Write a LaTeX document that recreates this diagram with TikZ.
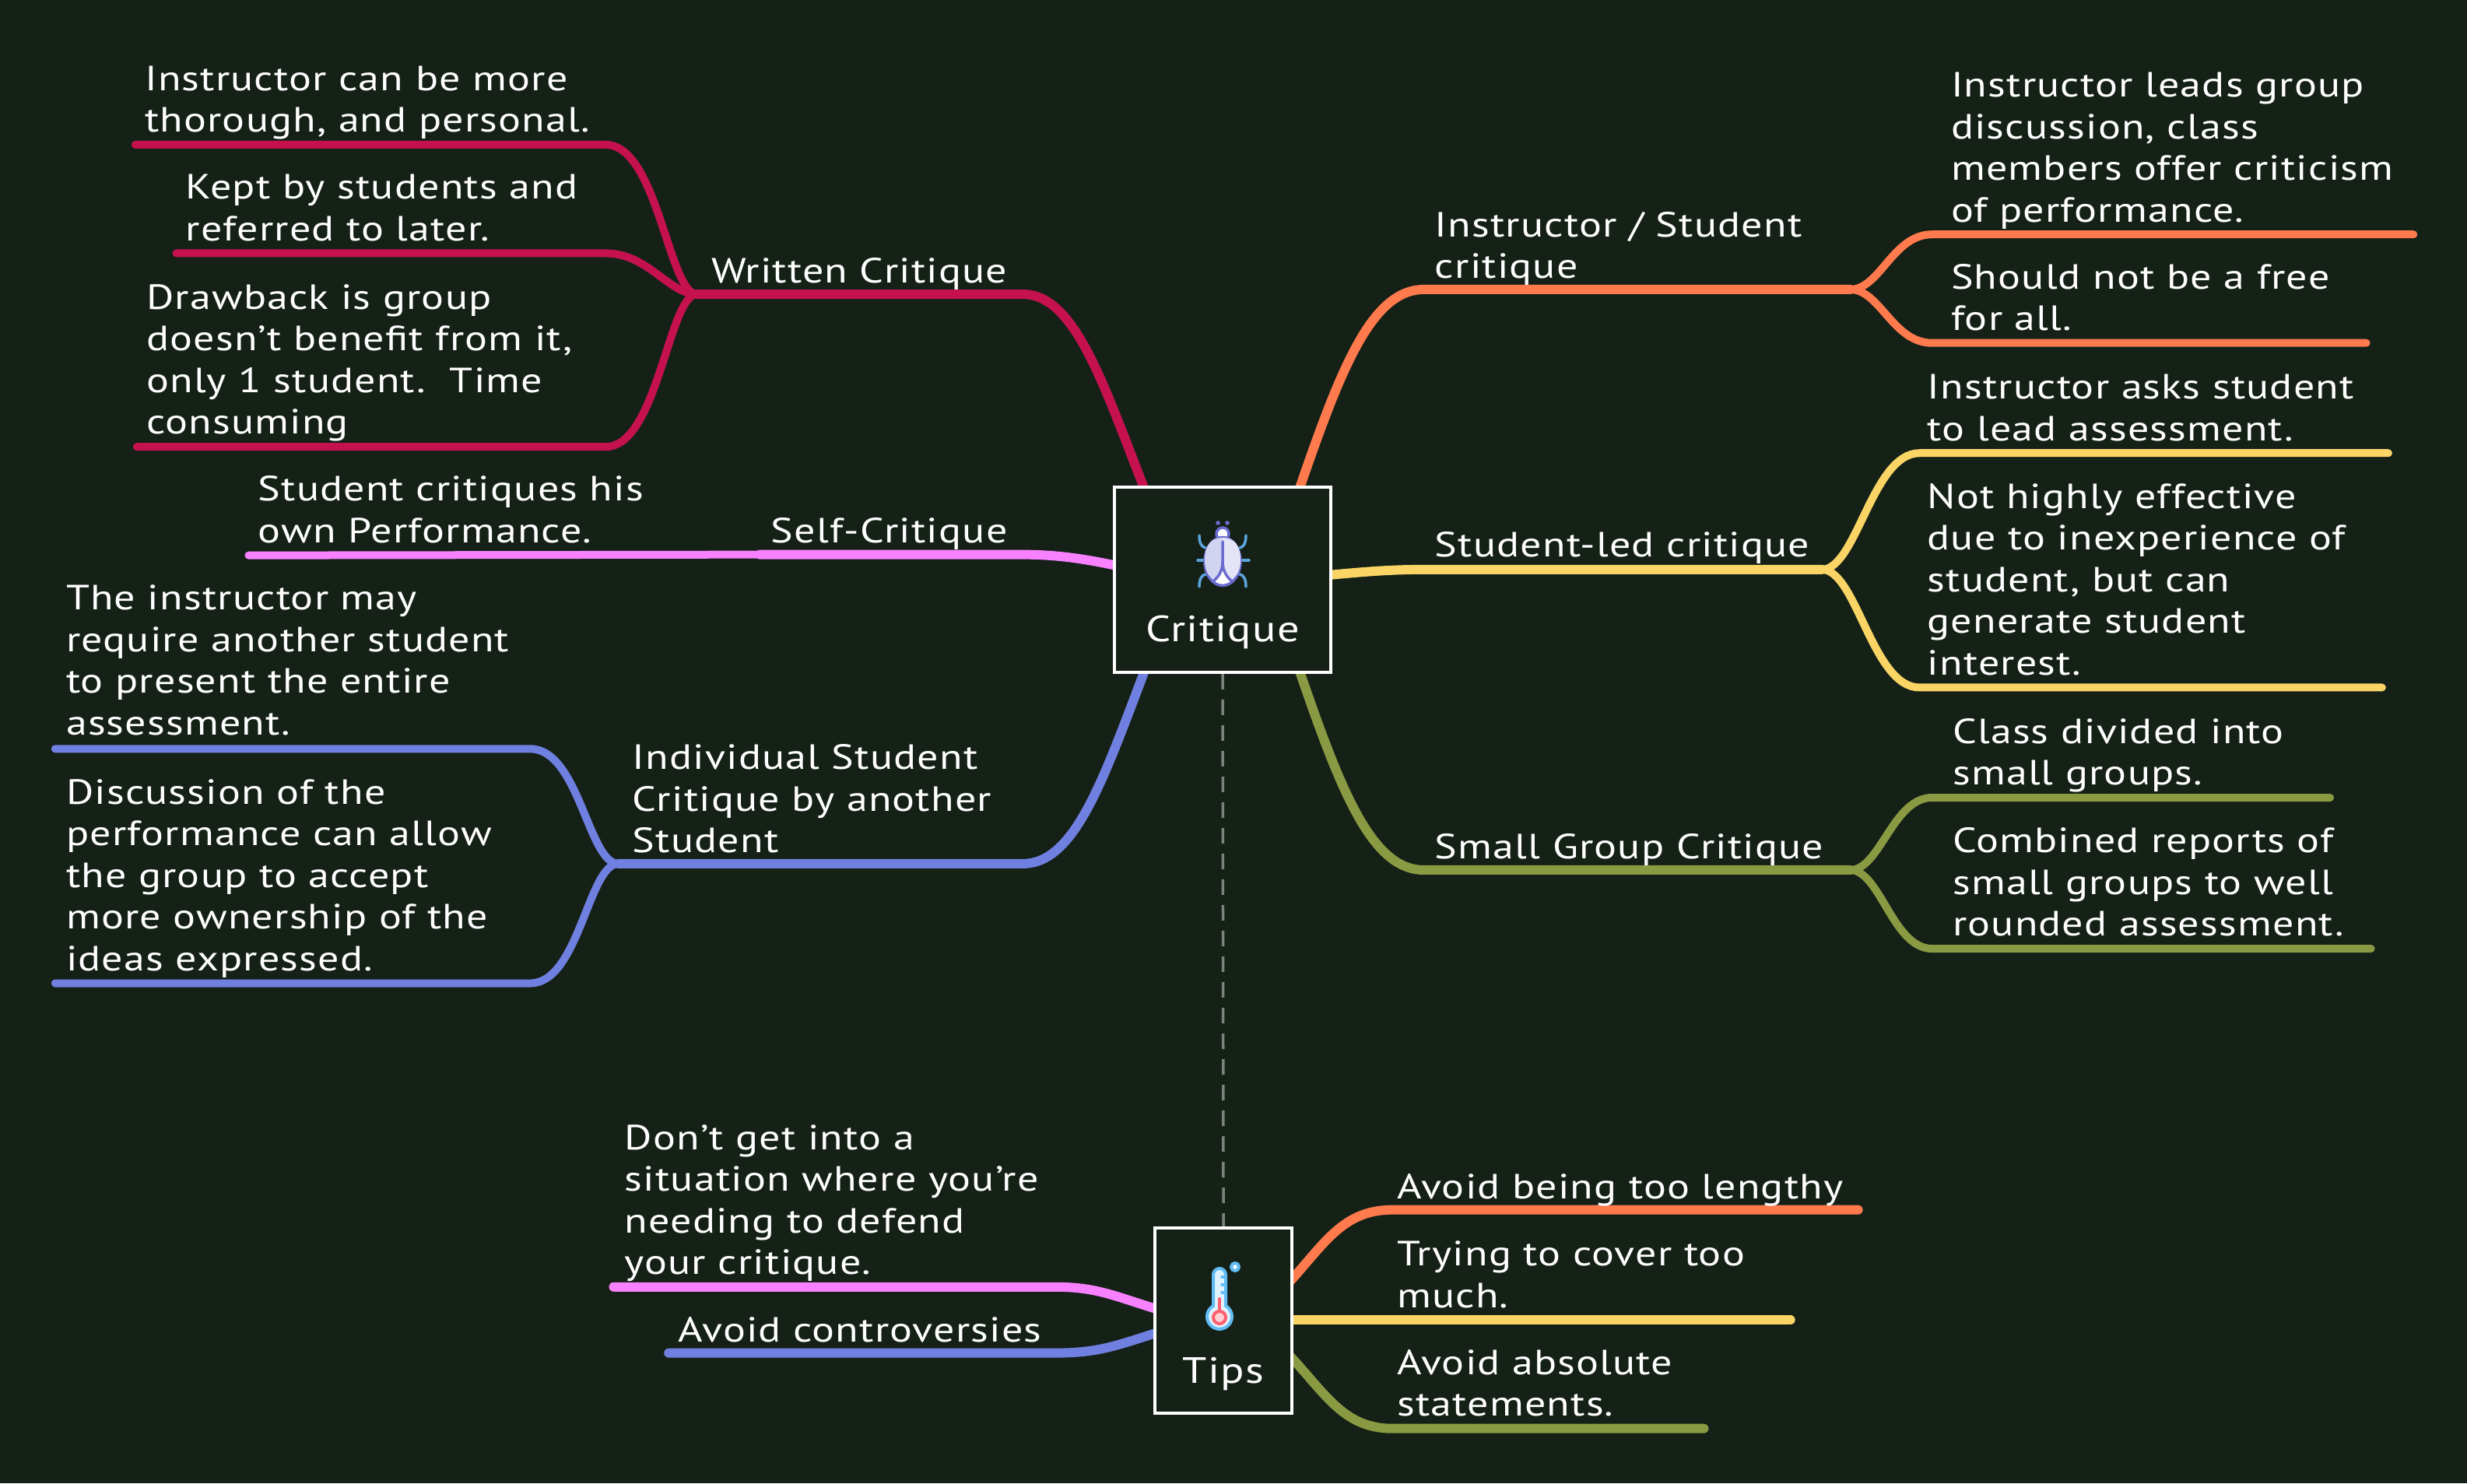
\documentclass[tikz,border=0pt]{standalone}
\usepackage{fontspec}
\setmainfont[FakeStretch=1.2,LetterSpace=2.6]{PT Sans}
\usetikzlibrary{backgrounds}
\definecolor{bgc}{HTML}{152117}
\definecolor{corange}{HTML}{FF7A4D}
\definecolor{cyellow}{HTML}{FAD566}
\definecolor{colive}{HTML}{8A9A42}
\definecolor{ccrimson}{HTML}{C5124F}
\definecolor{cpink}{HTML}{F781FF}
\definecolor{cblue}{HTML}{7080E0}
\definecolor{cdash}{HTML}{7C827C}
\definecolor{bugv}{HTML}{6A6CD0}
\definecolor{bugl}{HTML}{5AA5DC}
\definecolor{thb}{HTML}{62BCF5}
\definecolor{thr}{HTML}{FF5F6D}
\tikzset{
  lab/.style={text=white,anchor=base west,align=left,inner sep=0pt,font=\fontsize{45}{53.5}\selectfont},
  rootbox/.style={draw=white,line width=4pt,fill=bgc,rectangle,inner sep=0pt},
  rootlab/.style={text=white,anchor=base,inner sep=0pt,font=\fontsize{47}{54}\selectfont},
  mainb/.style={line width=12pt,line cap=round},
  leafb/.style={line width=10pt,line cap=round},
}
\begin{document}
\begin{tikzpicture}[x=2.02168pt,y=-2.02168pt]
\useasboundingbox (0,0) rectangle (1568,943);
% roots
\node[rootbox,minimum width=278pt,minimum height=238pt] (critique) at (777.1,368.5) {};
\node[rootbox,minimum width=176pt,minimum height=238pt] (tips) at (777.6,839.4) {};
\node[rootlab] (critiquelab) at (777,408) {Critique};
\node[rootlab] (tipslab) at (777.5,879) {Tips};
% labels
\node[lab] (t1) at (92,84) {Instructor can be more\\thorough, and personal.};
\node[lab] (t2) at (118,153) {Kept by students and\\referred to later.};
\node[lab] (t3) at (93,276) {Drawback is group\\doesn't benefit from it,\\only 1 student.\ \ Time\\consuming};
\node[lab] (w) at (452,180) {Written Critique};
\node[lab] (t4) at (164,345) {Student critiques his\\own Performance.};
\node[lab] (s) at (490,345) {Self-Critique};
\node[lab] (t5) at (42,467) {The instructor may\\require another student\\to present the entire\\assessment.};
\node[lab] (t6) at (42,617) {Discussion of the\\performance can allow\\the group to accept\\more ownership of the\\ideas expressed.};
\node[lab] (i) at (402,542) {Individual Student\\Critique by another\\Student};
\node[lab] (o) at (912,177) {Instructor / Student\\critique};
\node[lab] (r1) at (1240,141) {Instructor leads group\\discussion, class\\members offer criticism\\of performance.};
\node[lab] (r2) at (1240,210) {Should not be a free\\for all.};
\node[lab] (y) at (912,354) {Student-led critique};
\node[lab] (r3) at (1225,280) {Instructor asks student\\to lead assessment.};
\node[lab] (r4) at (1225,429) {Not highly effective\\due to inexperience of\\student, but can\\generate student\\interest.};
\node[lab] (g) at (912,546) {Small Group Critique};
\node[lab] (r5) at (1241,499) {Class divided into\\small groups.};
\node[lab] (r6) at (1241,595) {Combined reports of\\small groups to well\\rounded assessment.};
\node[lab] (a1) at (397,810) {Don't get into a\\situation where you're\\needing to defend\\your critique.};
\node[lab] (a2) at (431,853) {Avoid controversies};
\node[lab] (a3) at (888,762) {Avoid being too lengthy};
\node[lab] (a4) at (888,831) {Trying to cover too\\much.};
\node[lab] (a5) at (888,900) {Avoid absolute\\statements.};
% joints
\coordinate (jo) at (1176,184);
\coordinate (jy) at (1158,362);
\coordinate (jg) at (1176,553);
\coordinate (jw) at (443,187);
\coordinate (ji) at (393,549);
\coordinate (js) at (483,352.5);
\coordinate (e1) at (86,92); \coordinate (e2) at (112,161); \coordinate (e3) at (87,284);
\coordinate (e4) at (158,353);
\coordinate (e5) at (35,476); \coordinate (e6) at (35,625);
\coordinate (f1) at (1534,149); \coordinate (f2) at (1504,218);
\coordinate (f3) at (1518,288); \coordinate (f4) at (1514,437);
\coordinate (f5) at (1481,507); \coordinate (f6) at (1507,603);
\coordinate (g1) at (390,818); \coordinate (g2) at (425,860);
\coordinate (h1) at (1181,769); \coordinate (h2) at (1138,839); \coordinate (h3) at (1083,908);
\begin{scope}[on background layer]
\fill[bgc] (0,0) rectangle (1568,943);
\draw[cdash,line width=3.5pt,dash pattern=on 20pt off 13pt] (critique.south) -- (tips.north);
% right of Critique
\draw[mainb,corange] (821,325) .. controls (850,240) and (870,184) .. (905,184) -- (jo);
\draw[leafb,corange] (jo) .. controls (1195,184) and (1203,149) .. (1228,149) -- (f1);
\draw[leafb,corange] (jo) .. controls (1195,184) and (1203,218) .. (1228,218) -- (f2);
\draw[mainb,cyellow] (830,367) .. controls (860,364) and (880,362) .. (905,362) -- (jy);
\draw[leafb,cyellow] (jy) .. controls (1180,362) and (1190,288) .. (1220,288) -- (f3);
\draw[leafb,cyellow] (jy) .. controls (1180,362) and (1190,437) .. (1220,437) -- (f4);
\draw[mainb,colive] (821,412) .. controls (850,497) and (870,553) .. (905,553) -- (jg);
\draw[leafb,colive] (jg) .. controls (1195,553) and (1203,507) .. (1228,507) -- (f5);
\draw[leafb,colive] (jg) .. controls (1195,553) and (1203,603) .. (1228,603) -- (f6);
% left of Critique
\draw[mainb,ccrimson] (733,325) .. controls (703,250) and (685,187) .. (650,187) -- (jw);
\draw[leafb,ccrimson] (jw) .. controls (425,187) and (418,92) .. (385,92) -- (e1);
\draw[leafb,ccrimson] (jw) .. controls (425,187) and (412,161) .. (385,161) -- (e2);
\draw[leafb,ccrimson] (jw) .. controls (425,187) and (418,284) .. (385,284) -- (e3);
\draw[mainb,cpink] (725,363) .. controls (695,356) and (675,352.5) .. (650,352.5) -- (js);
\draw[leafb,cpink] (js) -- (e4);
\draw[mainb,cblue] (733,412) .. controls (703,490) and (685,549) .. (650,549) -- (ji);
\draw[leafb,cblue] (ji) .. controls (374,549) and (368,476) .. (337,476) -- (e5);
\draw[leafb,cblue] (ji) .. controls (374,549) and (368,625) .. (337,625) -- (e6);
% Tips
\draw[mainb,corange] (810,825) .. controls (840,795) and (850,769) .. (885,769) -- (h1);
\draw[mainb,cyellow] (810,839) -- (h2);
\draw[mainb,colive] (810,852) .. controls (840,880) and (850,908) .. (885,908) -- (h3);
\draw[mainb,cpink] (745,835) .. controls (710,825) and (700,818) .. (670,818) -- (g1);
\draw[mainb,cblue] (745,844) .. controls (710,855) and (700,860) .. (670,860) -- (g2);
\end{scope}
% bug icon (pixel coordinates)
\begin{scope}[x=1pt,y=-1pt]
\draw[bugl,line width=3.5pt,line cap=round] (1541,688) .. controls (1541,698) and (1544,703) .. (1549,704);
\draw[bugl,line width=3.5pt,line cap=round] (1601,688) .. controls (1601,698) and (1598,703) .. (1593,704);
\draw[bugl,line width=3.5pt,line cap=round] (1541,754) .. controls (1541,744) and (1544,739) .. (1549,738);
\draw[bugl,line width=3.5pt,line cap=round] (1601,754) .. controls (1601,744) and (1598,739) .. (1593,738);
\draw[bugl,line width=3.5pt,line cap=round] (1539,720) -- (1605,720);
\fill[bugv] (1565,672) circle (2.8pt) (1577,672) circle (2.8pt);
\draw[bugv,line width=3.5pt,fill=white] (1571,686) circle (8pt);
\draw[bugv,line width=3.5pt,fill=white] (1571,721.5) ellipse (23pt and 31pt);
\fill[bugv!30!white] (1571,691) .. controls (1555,691) and (1548,702) .. (1548,720) .. controls (1548,733) and (1553,742) .. (1561,745) .. controls (1568,737) and (1571,730) .. (1571,720) -- cycle;
\fill[bugv!18!white] (1571,691) .. controls (1587,691) and (1594,702) .. (1594,720) .. controls (1594,733) and (1589,742) .. (1581,745) .. controls (1574,737) and (1571,730) .. (1571,720) -- cycle;
\draw[bugv,line width=3.5pt,line cap=round] (1571,696) -- (1571,722) .. controls (1571,733) and (1566,741) .. (1560,746);
\draw[bugv,line width=3.5pt,line cap=round] (1571,722) .. controls (1571,733) and (1576,741) .. (1582,746);
% thermometer
\draw[thb,line width=4pt,fill=thb!20!white] (1559,1678) -- (1559,1638) arc[start angle=180,end angle=0,radius=8pt] -- (1575,1678) arc[start angle=60,end angle=-240,radius=16pt] -- cycle;
\draw[thb,line width=3.5pt,line cap=round] (1570,1641) -- (1575,1641) (1570,1651) -- (1575,1651) (1570,1661) -- (1575,1661);
\draw[thr,line width=4pt,line cap=round] (1567,1669) -- (1567,1686);
\draw[thr,line width=4pt,fill=thr!30!white] (1567,1693) circle (8pt);
\draw[thb,line width=4pt,fill=white] (1587,1628) circle (5pt);
\end{scope}
\end{tikzpicture}
\end{document}
